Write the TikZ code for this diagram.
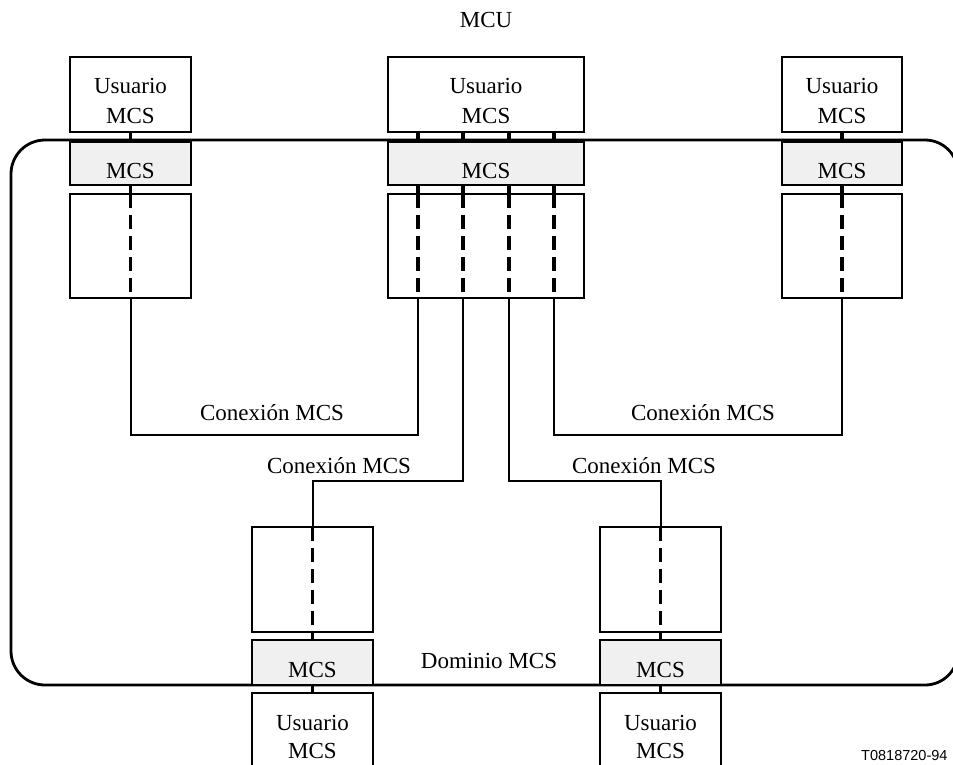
\documentclass[tikz,border=0pt]{standalone}
\usepackage{fontspec}
\setmainfont{Liberation Serif}
\newfontfamily\arialfont{Liberation Sans}
\usetikzlibrary{calc}
\definecolor{mcsgray}{HTML}{F0F0F0}
\begin{document}
\begin{tikzpicture}[x=1pt,y=-1pt,
  box/.style={draw, line width=1.8pt, anchor=north west, inner sep=0pt, outer sep=0pt},
  graybox/.style={box, fill=mcsgray},
  solidlink/.style={line width=3.2pt},
  dashlink/.style={line width=3.2pt, dash pattern=on 14pt off 7pt},
  conn/.style={line width=2pt},
  txt/.style={font=\fontsize{23}{29}\selectfont, anchor=base, inner sep=0pt},
  code/.style={font=\arialfont\fontsize{14.5}{18}\selectfont, anchor=base west, inner sep=0pt}
]
\useasboundingbox (0,0) rectangle (953,764);

% domain
\draw[line width=2.8pt] (11,174) arc[start angle=180, end angle=270, x radius=34pt, y radius=-34pt] -- (925,140)
  arc[start angle=90, end angle=0, x radius=33pt, y radius=33pt] -- (958,652)
  arc[start angle=0, end angle=-90, x radius=33pt, y radius=33pt] -- (45,685)
  arc[start angle=-90, end angle=-180, x radius=34pt, y radius=34pt] -- cycle;

% left column
\node[box, minimum width=121pt, minimum height=75pt] (uL) at (70,57) {};
\node[graybox, minimum width=121pt, minimum height=43pt] (gL) at (70,142) {};
\node[box, minimum width=121pt, minimum height=104pt] (bL) at (70,194) {};
% centre column
\node[box, minimum width=196pt, minimum height=75pt] (uC) at (388,57) {};
\node[graybox, minimum width=196pt, minimum height=43pt] (gC) at (388,142) {};
\node[box, minimum width=196pt, minimum height=104pt] (bC) at (388,194) {};
% right column
\node[box, minimum width=120pt, minimum height=75pt] (uR) at (782,57) {};
\node[graybox, minimum width=120pt, minimum height=43pt] (gR) at (782,142) {};
\node[box, minimum width=120pt, minimum height=104pt] (bR) at (782,194) {};
% bottom-left column
\node[box, minimum width=121pt, minimum height=105pt] (tBL) at (252,527) {};
\node[graybox, minimum width=121pt, minimum height=45pt] (gBL) at (252,640) {};
\node[box, minimum width=121pt, minimum height=90pt] (uBL) at (252,693) {};
% bottom-right column
\node[box, minimum width=121pt, minimum height=105pt] (tBR) at (600,527) {};
\node[graybox, minimum width=121pt, minimum height=45pt] (gBR) at (600,640) {};
\node[box, minimum width=121pt, minimum height=90pt] (uBR) at (600,693) {};

% single-column links
\foreach \u/\g/\b in {uL/gL/bL, uR/gR/bR}{
  \draw[solidlink] (\u.south) -- (\g.north);
  \draw[solidlink] (\g.south) -- (\b.north);
  \draw[dashlink] (\b.north) -- (\b.south);
}
\foreach \t/\g/\u in {tBL/gBL/uBL, tBR/gBR/uBR}{
  \draw[dashlink] (\t.north) -- (\t.south);
  \draw[solidlink] (\t.south) -- (\g.north);
  \draw[solidlink] (\g.south) -- (\u.north);
}
% centre ports
\foreach \i/\dx in {1/30, 2/75, 3/121, 4/166}{
  \coordinate (pu\i) at ($(uC.south west)+(\dx,0)$);
  \coordinate (pg\i) at ($(gC.north west)+(\dx,0)$);
  \coordinate (pgs\i) at ($(gC.south west)+(\dx,0)$);
  \coordinate (pb\i) at ($(bC.north west)+(\dx,0)$);
  \coordinate (pbs\i) at ($(bC.south west)+(\dx,0)$);
  \draw[solidlink] (pu\i) -- (pg\i);
  \draw[solidlink] (pgs\i) -- (pb\i);
  \draw[dashlink] (pb\i) -- (pbs\i);
}

% MCS connections
\coordinate (hA) at (0,435);
\coordinate (hB) at (0,481);
\draw[conn] (bL.south) -- (bL.south |- hA) -| (pbs1);
\draw[conn] (pbs4) -- (pbs4 |- hA) -| (bR.south);
\draw[conn] (pbs2) -- (pbs2 |- hB) -| (tBL.north);
\draw[conn] (pbs3) -- (pbs3 |- hB) -| (tBR.north);

% texts
\node[txt] (mcu) at (486,27) {MCU};
\foreach \n/\x in {L/130.5, C/486, R/842}{
  \node[txt] (us\n) at (\x,93) {Usuario};
  \node[txt] (um\n) at (\x,123) {MCS};
  \node[txt] (gm\n) at (\x,178) {MCS};
}
\foreach \n/\x in {BL/312.5, BR/660.5}{
  \node[txt] (gm\n) at (\x,677) {MCS};
  \node[txt] (us\n) at (\x,730) {Usuario};
  \node[txt] (um\n) at (\x,758) {MCS};
}
\node[txt] (c1) at (272,420) {Conexión MCS};
\node[txt] (c2) at (703,420) {Conexión MCS};
\node[txt] (c3) at (339,473) {Conexión MCS};
\node[txt] (c4) at (644,473) {Conexión MCS};
\node[txt] (dom) at (489,668) {Dominio MCS};
\node[code] (ref) at (861,760) {T0818720-94};
\end{tikzpicture}
\end{document}
